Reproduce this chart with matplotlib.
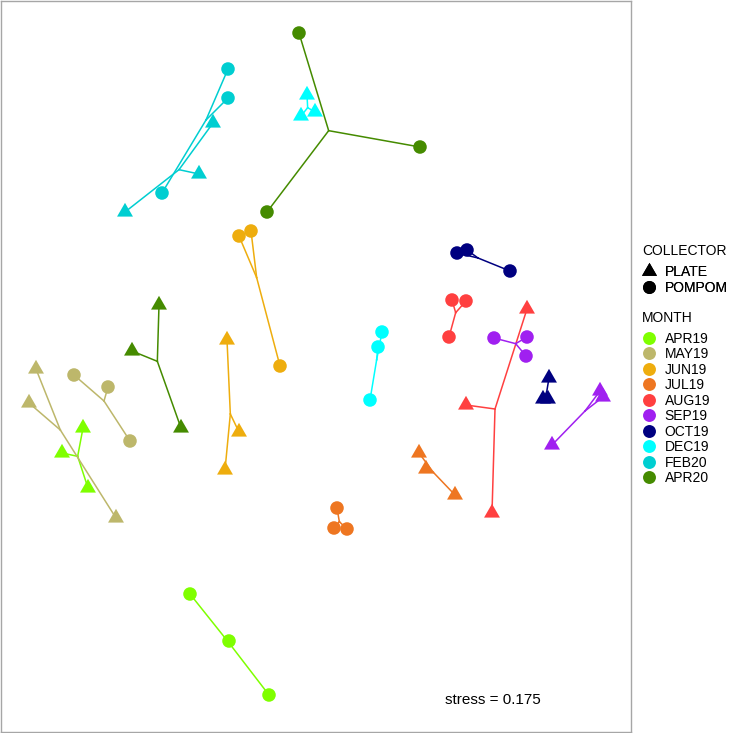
import numpy as np
import pandas as pd
import matplotlib
matplotlib.use('Agg')
import matplotlib.pyplot as plt
from matplotlib.lines import Line2D

plt.rcParams['font.family'] = ['Liberation Sans', 'DejaVu Sans']

# NMDS scores (screen units, y grows downward)
months = ['APR19', 'MAY19', 'JUN19', 'JUL19', 'AUG19', 'SEP19', 'OCT19', 'DEC19', 'FEB20', 'APR20']
month_colors = ['#7FFF00', '#BDB76B', '#EEAD0E', '#EE7621', '#FF4040',
                '#A020F0', '#000080', '#00FFFF', '#00CED1', '#458B00']
collectors = ['PLATE', 'POMPOM']

sample_month = [m for m in months for _ in range(6)]
sample_collector = ['PLATE'] * 3 + ['POMPOM'] * 3
sample_collector = sample_collector * len(months)

nmds1 = [83, 62, 88, 190, 229, 269,       # APR19
         36, 29, 116, 74, 108, 130,       # MAY19
         227, 239, 225, 239, 251, 280,    # JUN19
         419, 426, 455, 337, 334, 347,    # JUL19
         527, 466, 492, 452, 466, 449,    # AUG19
         600, 603, 552, 494, 527, 526,    # SEP19
         549, 543, 548, 457, 467, 510,    # OCT19
         307, 301, 315, 382, 378, 370,    # DEC19
         213, 199, 125, 228, 228, 162,    # FEB20
         159, 132, 181, 299, 420, 267]    # APR20
nmds2 = [428, 453, 488, 594, 641, 695,
         369, 403, 518, 375, 387, 441,
         340, 432, 470, 236, 231, 366,
         453, 469, 495, 508, 528, 529,
         309, 405, 513, 300, 301, 337,
         391, 397, 445, 338, 337, 356,
         378, 399, 399, 253, 250, 271,
         95, 116, 112, 332, 347, 400,
         123, 174, 212, 69, 98, 193,
         305, 351, 428, 33, 147, 212]

stress = 0.175

df = pd.DataFrame({'month': sample_month, 'collector': sample_collector,
                   'x': nmds1, 'y': nmds2})

s3 = np.sqrt(3)
tri = [(-1, -1 / s3), (1, -1 / s3), (0, 2 / s3)]
shapes = {'PLATE': tri, 'POMPOM': 'o'}
sizes = {'PLATE': 175, 'POMPOM': 95}
cmap = dict(zip(months, month_colors))

fig = plt.figure(figsize=(7.33, 7.33), dpi=100)
ax = fig.add_axes([1 / 733, 1 / 733, 630 / 733, 731 / 733])

# spider lines to group centroids
for (m, c), g in df.groupby(['month', 'collector']):
    cx, cy = g['x'].mean(), g['y'].mean()
    for px, py in zip(g['x'], g['y']):
        ax.plot([cx, px], [cy, py], color=cmap[m], lw=1.1, zorder=1)

for (m, c), g in df.groupby(['month', 'collector']):
    ax.scatter(g['x'], g['y'], marker=shapes[c], s=sizes[c], color=cmap[m],
               edgecolors='none', zorder=2)

ax.text(493, 700, f'stress = {stress}', fontsize=11, ha='center', va='center')

ax.set_xlim(1, 631)
ax.set_ylim(732, 1)
ax.set_xticks([])
ax.set_yticks([])
for sp in ax.spines.values():
    sp.set_color('#A6A6A6')
    sp.set_linewidth(1)

# legends (titles drawn separately to control the gap)
fs = 10
leg_kw = dict(loc='upper left', frameon=False, fontsize=fs, borderpad=0,
              borderaxespad=0, handlelength=1.15, handletextpad=0.55,
              labelspacing=0.11)

fig.text(642 / 733, 1 - 251 / 733, 'COLLECTOR', fontsize=fs, ha='left', va='center')
coll_handles = [Line2D([], [], ls='none', marker=shapes[c], markersize=12.5 if c == 'PLATE' else 9.3,
                       color='black', markeredgewidth=0) for c in collectors]
leg1 = fig.legend(coll_handles, collectors, bbox_to_anchor=(641 / 733, 1 - 265 / 733), **leg_kw)
fig.add_artist(leg1)

fig.text(642 / 733, 1 - 317.5 / 733, 'MONTH', fontsize=fs, ha='left', va='center')
month_handles = [Line2D([], [], ls='none', marker='o', markersize=9.3, color=col,
                        markeredgewidth=0) for col in month_colors]
fig.legend(month_handles, months, bbox_to_anchor=(641 / 733, 1 - 331.5 / 733), **leg_kw)

fig.savefig('out.png', dpi=100, facecolor='white')
